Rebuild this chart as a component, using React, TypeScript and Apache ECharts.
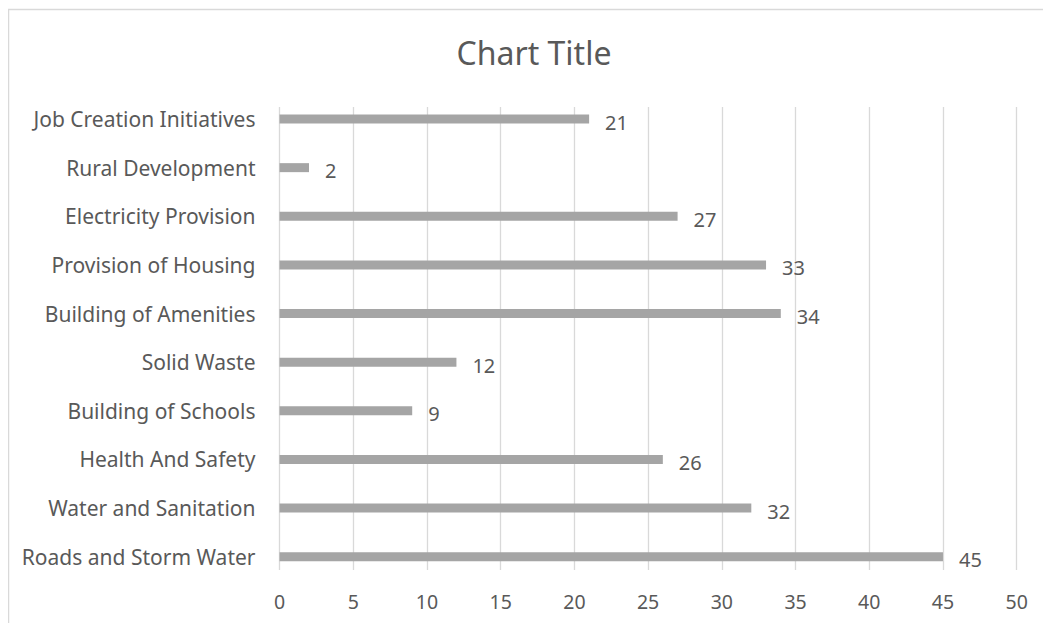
import React, { useEffect, useRef } from "react";
import * as echarts from "echarts";

// Categories listed bottom-to-top (ECharts category axes grow upwards)
const categories: string[] = [
  "Roads and Storm Water",
  "Water and Sanitation",
  "Health And Safety",
  "Building of Schools",
  "Solid Waste",
  "Building of Amenities",
  "Provision of Housing",
  "Electricity Provision",
  "Rural Development",
  "Job Creation Initiatives",
];

const values: number[] = [45, 32, 26, 9, 12, 34, 33, 27, 2, 21];

const xTicks: number[] = [0, 5, 10, 15, 20, 25, 30, 35, 40, 45, 50];

const FONT = "'Noto Sans', 'Open Sans', sans-serif";
const TEXT = "#595959";
const GRID_LINE = "#d9d9d9";
const BAR = "#a5a5a5";

export default function App() {
  const ref = useRef<HTMLDivElement>(null);

  useEffect(() => {
    if (!ref.current) return;
    const chart = echarts.init(ref.current, null, { renderer: "svg" });
    const xMin = xTicks[0];
    const xMax = xTicks[xTicks.length - 1];
    const step = xTicks[1] - xTicks[0];

    chart.setOption({
      animation: false,
      backgroundColor: "#ffffff",
      title: {
        text: "Chart Title",
        left: 521,
        top: 23,
        textAlign: "center",
        textStyle: { fontFamily: FONT, fontSize: 32, fontWeight: "normal", color: TEXT },
      },
      graphic: [
        // chart area outline (top and left edges)
        {
          type: "line",
          shape: { x1: 0, y1: 1.5, x2: 1035, y2: 1.5 },
          style: { stroke: GRID_LINE, lineWidth: 1.5 },
          silent: true,
        },
        {
          type: "line",
          shape: { x1: 0.5, y1: 1.5, x2: 0.5, y2: 615 },
          style: { stroke: GRID_LINE, lineWidth: 1.5 },
          silent: true,
        },
      ],
      grid: [
        // gridlines + tick labels
        { left: 271.5, right: 26.3, top: 99, bottom: 53, containLabel: false },
        // bars + category labels
        { left: 271.5, right: 26.3, top: 86.7, bottom: 42, containLabel: false },
      ],
      xAxis: [
        {
          gridIndex: 0,
          type: "value",
          min: xMin,
          max: xMax,
          interval: step,
          axisLine: { show: false },
          axisTick: { show: false },
          splitLine: { show: true, lineStyle: { color: GRID_LINE, width: 1.3 } },
          axisLabel: { fontFamily: FONT, fontSize: 19.5, color: TEXT, margin: 21 },
        },
        {
          gridIndex: 1,
          type: "value",
          min: xMin,
          max: xMax,
          interval: step,
          show: false,
        },
      ],
      yAxis: [
        {
          gridIndex: 0,
          type: "category",
          data: categories,
          show: false,
        },
        {
          gridIndex: 1,
          type: "category",
          data: categories,
          axisLine: { show: false },
          axisTick: { show: false },
          axisLabel: { fontFamily: FONT, fontSize: 21, color: TEXT, margin: 24 },
        },
      ],
      series: [
        {
          type: "bar",
          xAxisIndex: 1,
          yAxisIndex: 1,
          data: values,
          barWidth: 9,
          itemStyle: { color: BAR },
          label: {
            show: true,
            position: "right",
            distance: 16,
            offset: [0, 3],
            fontFamily: FONT,
            fontSize: 20,
            color: TEXT,
          },
        },
      ],
    });
    return () => chart.dispose();
  }, []);

  return (
    <div style={{ position: "fixed", left: 8, top: 8, width: 1035, height: 615, overflow: "hidden" }}>
      <div ref={ref} style={{ width: 1035, height: 615 }} />
    </div>
  );
}
